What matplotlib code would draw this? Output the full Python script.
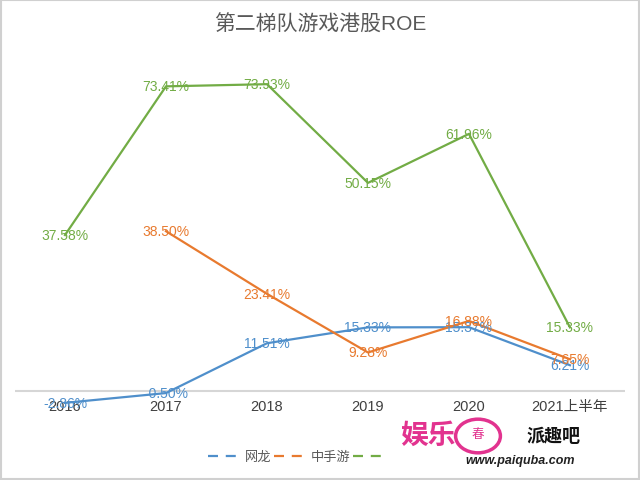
import matplotlib
matplotlib.use("Agg")
import matplotlib.pyplot as plt
import numpy as np
from matplotlib.patches import Rectangle, Circle
from matplotlib.lines import Line2D

plt.rcParams['font.family'] = ['Liberation Sans', 'Noto Sans CJK SC', 'DejaVu Sans']

categories = ["2016", "2017", "2018", "2019", "2020", "2021上半年"]
series_names = ["网龙", "中手游", ""]
wanglong = [-2.86, -0.50, 11.51, 15.33, 15.37, 6.21]
zhongshouyou = [np.nan, 38.50, 23.41, 9.28, 16.88, 7.65]
third = [37.58, 73.41, 73.93, 50.15, 61.96, 15.33]
colors = ["#4f8fcb", "#e87a2f", "#72ac45"]

fig = plt.figure(figsize=(6.4, 4.81), dpi=100)
W, H = 640, 481
ax = fig.add_axes([15 / W, 1 - 420 / H, 610 / W, 360 / H])
ax.set_xlim(-0.495, 5.545)
ax.set_ylim(-6.75, 80)
ax.axis('off')
ax.axhline(0, color="#d6d6d6", lw=1.5, zorder=1)

x = np.arange(len(categories))
for vals, c in zip([wanglong, zhongshouyou, third], colors):
    ax.plot(x, vals, color=c, lw=1.6, zorder=2)
    for xi, v in zip(x, vals):
        if np.isnan(v):
            continue
        ax.text(xi, v, f"{v:.2f}%", color=c, fontsize=10, ha='center', va='center', zorder=3)

for xi, lab in zip(x, categories):
    ax.text(xi, -3.6, lab, color="#404040", fontsize=10.5, ha='center', va='center', zorder=1)

fig.text(0.5, 1 - 25 / H, "第二梯队游戏港股ROE", ha='center', va='center', fontsize=15, color="#595959")

handles = [Line2D([], [], color=c, lw=1.6, ls=(0, (4.5, 3.5))) for c in colors]
fig.legend(handles, series_names, loc='center left', bbox_to_anchor=(208 / W, 1 - 458 / H), ncol=3,
           frameon=False, fontsize=9.5, handlelength=2.6, handletextpad=0.2, columnspacing=0.2,
           labelcolor="#595959", borderaxespad=0, borderpad=0)

# watermark
fig.patches.append(Circle((478 / W, 1 - 437 / H), 0.035, transform=fig.transFigure, fill=False,
                          edgecolor="#e2338f", lw=2.5))
fig.text(478 / W, 1 - 435 / H, "春", color="#e2338f", fontsize=9, ha='center', va='center')
fig.text(428 / W, 1 - 437 / H, "娱乐", color="#e2338f", fontsize=20, ha='center', va='center', fontweight='bold')
fig.text(553 / W, 1 - 437 / H, "派趣吧", color="#111111", fontsize=13, ha='center', va='center', fontweight='bold')
fig.text(520 / W, 1 - 461 / H, "www.paiquba.com", color="#222222", fontsize=9, ha='center', va='center',
         fontweight='bold', style='italic')

fig.patches.append(Rectangle((0.002, 0.002), 0.996, 0.996, transform=fig.transFigure, fill=False,
                             edgecolor="#d0d0d0", lw=1.5))
fig.savefig("out.png", dpi=100, facecolor='white')
